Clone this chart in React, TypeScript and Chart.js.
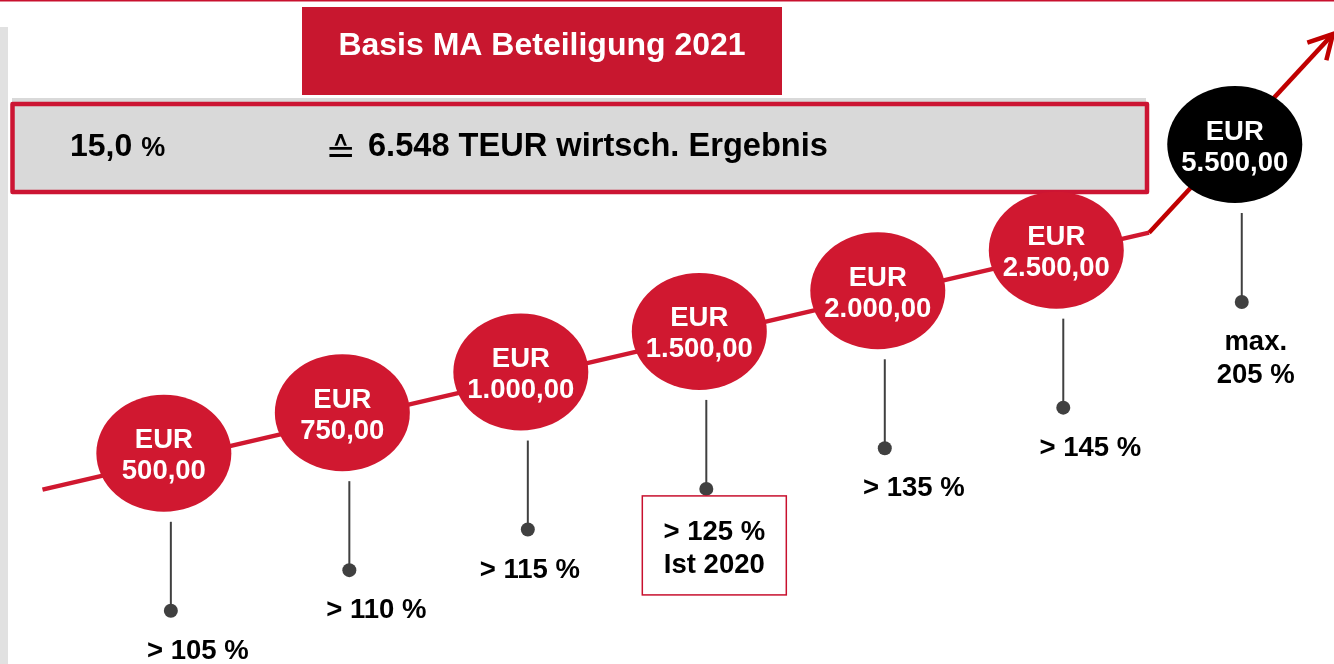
import { useEffect, useRef } from "react";
import { Chart, registerables } from "chart.js";

Chart.register(...registerables);

// ---------- data ----------
const title = "Basis MA Beteiligung 2021";
const shareValue = "15,0";
const shareUnit = "%";
const equivSymbol = "\u2259";
const basisText = "6.548 TEUR wirtsch. Ergebnis";

const currency = "EUR";
const rewardAmounts = ["500,00", "750,00", "1.000,00", "1.500,00", "2.000,00", "2.500,00", "5.500,00"];
const thresholdLines = [
  ["> 105 %"],
  ["> 110 %"],
  ["> 115 %"],
  ["> 125 %", "Ist 2020"],
  ["> 135 %"],
  ["> 145 %"],
  ["max.", "205 %"],
];
const stages = [0, 1, 2, 3, 4, 5, 6];
const stageLevels = [0, 1, 2, 3, 4, 5, 7.6];
const currentStage = 3; // Ist 2020
const maxStage = 6;

// trend arrow (in stage / level units)
const trendX = [-0.68, 5.52];
const arrowX = [5.52, 6.55];
const arrowTipLevel = 10.32;

// ---------- style / layout ----------
const RED = "#D01830";
const DARK_RED = "#C00000";
const TITLE_RED = "#C8172F";
const GREY = "#D9D9D9";
const PIN = "#404040";
const FONT = "'Liberation Sans', Arial, Helvetica, sans-serif";
const labelNudge = [27, 27, 2, 8, 29, 27, 14];

const trendLevel = (s: number) => 1.02 * s - 0.2;

const decor = {
  id: "decor",
  beforeDatasetsDraw(chart: any) {
    const ctx = chart.ctx as CanvasRenderingContext2D;
    ctx.save();
    // top rule
    ctx.fillStyle = "#C8102E";
    ctx.fillRect(0, 0, 1334, 1.5);
    // left grey bar
    ctx.fillStyle = "#E1E1E1";
    ctx.fillRect(0, 27, 8, 637);
    // title box
    ctx.fillStyle = TITLE_RED;
    ctx.fillRect(302, 7, 480, 88);
    ctx.fillStyle = "#FFFFFF";
    ctx.font = `bold 32px ${FONT}`;
    ctx.textAlign = "center";
    ctx.textBaseline = "alphabetic";
    ctx.fillText(title, 542, 55);
    // grey info box
    ctx.fillStyle = GREY;
    ctx.fillRect(12, 98, 1134, 94);
    ctx.strokeStyle = "#CC1533";
    ctx.lineWidth = 4.5;
    ctx.lineJoin = "round";
    ctx.strokeRect(12.5, 104, 1134.5, 88);
    ctx.fillStyle = "#000000";
    ctx.textAlign = "left";
    ctx.font = `bold 32px ${FONT}`;
    ctx.fillText(shareValue, 70, 156);
    const w = ctx.measureText(shareValue + " ").width;
    ctx.font = `bold 27px ${FONT}`;
    ctx.fillText(shareUnit, 70 + w, 156);
    ctx.font = `36px 'DejaVu Sans', sans-serif`;
    ctx.textAlign = "center";
    ctx.fillText(equivSymbol, 340.5, 163);
    ctx.textAlign = "left";
    ctx.font = `bold 32.6px ${FONT}`;
    ctx.fillText(basisText, 368, 156);
    ctx.restore();
  },
  afterDatasetsDraw(chart: any) {
    const ctx = chart.ctx as CanvasRenderingContext2D;
    ctx.save();
    // arrow head
    const am = chart.getDatasetMeta(1).data;
    const p1 = am[am.length - 2];
    const p2 = am[am.length - 1];
    const ang = Math.atan2(p2.y - p1.y, p2.x - p1.x);
    ctx.strokeStyle = DARK_RED;
    ctx.lineWidth = 4.5;
    ctx.lineCap = "butt";
    ctx.lineJoin = "miter";
    ctx.beginPath();
    ctx.moveTo(p2.x + 27 * Math.cos(ang + Math.PI - 0.5), p2.y + 27 * Math.sin(ang + Math.PI - 0.5));
    ctx.lineTo(p2.x, p2.y);
    ctx.lineTo(p2.x + 27 * Math.cos(ang + Math.PI + 0.5), p2.y + 27 * Math.sin(ang + Math.PI + 0.5));
    ctx.stroke();

    // bubbles, pins and labels
    const bm = chart.getDatasetMeta(2).data;
    bm.forEach((pt: any, i: number) => {
      const cx = pt.x;
      const cy = pt.y;
      const rx = 67.5;
      const ry = 58.5;
      ctx.fillStyle = i === maxStage ? "#000000" : RED;
      ctx.beginPath();
      ctx.ellipse(cx, cy, rx, ry, 0, 0, Math.PI * 2);
      ctx.fill();
      ctx.fillStyle = "#FFFFFF";
      ctx.font = `bold 27.5px ${FONT}`;
      ctx.textAlign = "center";
      ctx.textBaseline = "alphabetic";
      ctx.fillText(currency, cx, cy - 5);
      ctx.fillText(rewardAmounts[i], cx, cy + 26);

      // pin
      const sx = cx + 7;
      const top = cy + ry + 10;
      const dotY = top + 89;
      ctx.strokeStyle = PIN;
      ctx.lineWidth = 2;
      ctx.beginPath();
      ctx.moveTo(sx, top);
      ctx.lineTo(sx, dotY);
      ctx.stroke();
      ctx.fillStyle = PIN;
      ctx.beginPath();
      ctx.arc(sx, dotY, 7, 0, Math.PI * 2);
      ctx.fill();

      // label
      const lx = sx + labelNudge[i];
      const lines = thresholdLines[i];
      if (i === currentStage) {
        ctx.fillStyle = "#FFFFFF";
        ctx.fillRect(sx - 64, dotY + 7, 144, 99);
        ctx.strokeStyle = "#C8102E";
        ctx.lineWidth = 1.5;
        ctx.strokeRect(sx - 64, dotY + 7, 144, 99);
      }
      ctx.fillStyle = "#000000";
      ctx.font = `bold 27.5px ${FONT}`;
      const first = i === currentStage ? dotY + 51 : dotY + 48;
      lines.forEach((t, k) => {
        ctx.fillText(t, lx, first + k * 33);
      });
    });
    ctx.restore();
  },
};

export default function App() {
  const ref = useRef<HTMLCanvasElement>(null);
  useEffect(() => {
    const canvas = ref.current!;
    const flat = trendX.map((x) => ({ x, y: trendLevel(x) }));
    const arrow = [
      { x: arrowX[0], y: trendLevel(arrowX[0]) },
      { x: arrowX[1], y: arrowTipLevel },
    ];
    const bubbles = stages.map((s, i) => ({ x: s, y: stageLevels[i] }));
    const chart = new Chart(canvas, {
      type: "scatter",
      data: {
        datasets: [
          {
            data: flat,
            showLine: true,
            borderColor: RED,
            borderWidth: 4.5,
            pointRadius: 0,
            borderCapStyle: "butt",
          } as any,
          {
            data: arrow,
            showLine: true,
            borderColor: DARK_RED,
            borderWidth: 4.5,
            pointRadius: 0,
            borderCapStyle: "butt",
          } as any,
          {
            data: bubbles,
            showLine: false,
            pointRadius: 0,
          } as any,
        ],
      },
      options: {
        responsive: false,
        animation: false,
        devicePixelRatio: 1,
        events: [],
        layout: { padding: 0 },
        plugins: {
          legend: { display: false },
          tooltip: { enabled: false },
          title: { display: false },
        },
        scales: {
          x: { type: "linear", display: false, min: -0.918, max: 6.556 },
          y: { type: "linear", display: false, min: -5.186, max: 11.157 },
        },
      },
      plugins: [decor],
    });
    return () => chart.destroy();
  }, []);
  return (
    <canvas
      ref={ref}
      width={1334}
      height={664}
      style={{ position: "absolute", left: 0, top: 0, display: "block" }}
    />
  );
}
